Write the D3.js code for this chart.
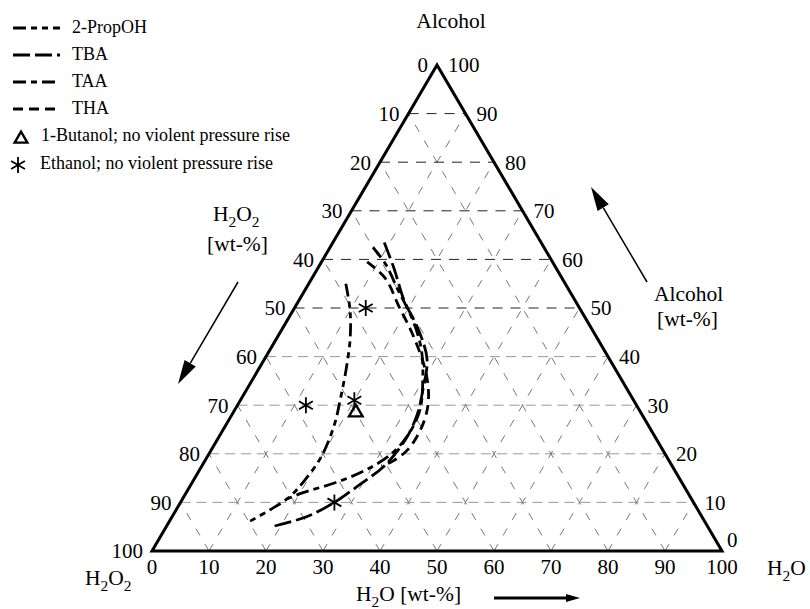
<!DOCTYPE html>
<html>
<head>
<meta charset="utf-8">
<script src="https://cdn.jsdelivr.net/npm/d3@7"></script>
<style>
  body { margin: 0; background: #fff; }
  text { font-family: "Liberation Serif", "Times New Roman", serif; fill: #000; }
</style>
</head>
<body>
<div id="chart"></div>
<script>
// ternary points as [H2O, Alcohol] in wt-%, H2O2 is the rest
var propoh = [[6.5,55],[10,49.5],[13,43.5],[15.5,37],[17.5,31],[19,26],[20,19.5],[19.5,14.5],[18.5,11],[16.5,8.5],[14,6]]
var tba = [[9,63.5],[13.5,58],[18.5,51.5],[24,45.5],[28.5,39.5],[31,33],[32.5,28],[33,23],[32,17.5],[29.5,13.5],[27,10],[23.5,7],[18.5,5]]
var taa = [[7.5,62.5],[11.5,59],[16.5,53.5],[22,47.5],[26.5,41.5],[30,35],[32.5,29],[33,24],[32,20],[29,16.5],[25,14],[20.5,12],[18,10.5]]
var tha = [[8,59.5],[13,56],[18,50.5],[23.5,44.5],[29.5,37],[33,31],[34.5,26],[34.5,21],[33,18.5],[31.5,17.5]]
var ethanol = [[12.5,50],[12,30],[20,31],[27,10]]
var butanol = [[21.5,28.5]]
var ticks = [0,10,20,30,40,50,60,70,80,90,100]
var gridVals = [10,20,30,40,50,60,70,80,90]

var series = [
  {name: "2-PropOH", data: propoh, dash: "13,5,6,5,6,5"},
  {name: "TBA", data: tba, dash: "17,5"},
  {name: "TAA", data: taa, dash: "13,5,6,5"},
  {name: "THA", data: tha, dash: "10,6"}
]

var width = 810, height = 609
var tri = {left: 152, right: 722, bottom: 551, top: 65}

var svg = d3.select("#chart")
  .append("svg")
    .attr("width", width)
    .attr("height", height)

// base coordinate and height scales of the triangle
var xs = d3.scaleLinear().domain([0, 100]).range([tri.left, tri.right])
var ys = d3.scaleLinear().domain([0, 100]).range([tri.bottom, tri.top])

function P(h2o, alc) { return [xs(h2o + alc / 2), ys(alc)] }

function seg(g, a, b) {
  return g.append("line")
    .attr("x1", a[0]).attr("y1", a[1])
    .attr("x2", b[0]).attr("y2", b[1])
}

// grid
var grid = svg.append("g")
gridVals.forEach(function(k) {
  // constant alcohol
  seg(grid, P(0, k), P(100 - k, k))
    .attr("stroke", k >= 50 ? "#222" : "#999")
    .attr("stroke-width", 1)
    .attr("stroke-dasharray", k >= 50 ? "10,8" : "10,6")
  // constant H2O
  seg(grid, P(k, 0), P(k, 100 - k))
    .attr("stroke", "#777").attr("stroke-width", 1)
    .attr("stroke-dasharray", "8,10")
  // constant H2O2
  seg(grid, P(100 - k, 0), P(0, 100 - k))
    .attr("stroke", "#777").attr("stroke-width", 1)
    .attr("stroke-dasharray", "8,10")
})

// triangle frame
svg.append("path")
  .attr("d", d3.line()([P(0, 0), P(100, 0), P(0, 100)]) + "Z")
  .attr("fill", "none")
  .attr("stroke", "#000")
  .attr("stroke-width", 3)
  .attr("stroke-linejoin", "miter")

// tick labels
var fs = 21
svg.selectAll(".tb").data(ticks).enter().append("text")
  .attr("x", function(d) { return P(d, 0)[0] })
  .attr("y", tri.bottom + 23)
  .attr("text-anchor", "middle")
  .style("font-size", fs + "px")
  .text(function(d) { return d })

svg.selectAll(".tl").data(ticks).enter().append("text")
  .attr("x", function(d) { return P(0, 100 - d)[0] - 9 })
  .attr("y", function(d) { return P(0, 100 - d)[1] })
  .attr("dy", "0.35em")
  .attr("text-anchor", "end")
  .style("font-size", fs + "px")
  .text(function(d) { return d })

svg.selectAll(".tr").data(ticks).enter().append("text")
  .attr("x", function(d) { return P(100 - d, d)[0] + (d == 0 ? 5 : 11) })
  .attr("y", function(d) { return P(100 - d, d)[1] - (d == 0 ? 11 : 0) })
  .attr("dy", "0.35em")
  .attr("text-anchor", "start")
  .style("font-size", fs + "px")
  .text(function(d) { return d })

// text with subscripts
function chem(x, y, parts, size, anchor) {
  var t = svg.append("text")
    .attr("x", x).attr("y", y)
    .attr("text-anchor", anchor || "start")
    .style("font-size", size + "px")
  parts.forEach(function(p) {
    if (p[1]) {
      t.append("tspan").attr("dy", size * 0.26).style("font-size", (size * 0.72) + "px").text(p[0])
    } else {
      t.append("tspan").attr("dy", p[2] ? -size * 0.26 : 0).text(p[0])
    }
  })
  return t
}

var ts = 21.5
svg.append("text").attr("x", 451).attr("y", 28).attr("text-anchor", "middle")
  .style("font-size", ts + "px").text("Alcohol")

chem(213, 221, [["H"], ["2", 1], ["O", 0, 1], ["2", 1]], ts)
svg.append("text").attr("x", 207).attr("y", 251).style("font-size", ts + "px").text("[wt-%]")

svg.append("text").attr("x", 654).attr("y", 301).style("font-size", ts + "px").text("Alcohol")
svg.append("text").attr("x", 657).attr("y", 326).style("font-size", ts + "px").text("[wt-%]")

chem(85, 585, [["H"], ["2", 1], ["O", 0, 1], ["2", 1]], ts)
chem(767, 575, [["H"], ["2", 1], ["O", 0, 1]], ts)
chem(356, 601, [["H"], ["2", 1], ["O [wt-%]", 0, 1]], ts)

// arrows
function arrow(x1, y1, x2, y2, w, hl, hw) {
  var ang = Math.atan2(y2 - y1, x2 - x1)
  var bx = x2 - hl * Math.cos(ang), by = y2 - hl * Math.sin(ang)
  svg.append("line")
    .attr("x1", x1).attr("y1", y1).attr("x2", bx).attr("y2", by)
    .attr("stroke", "#000").attr("stroke-width", w)
  var nx = -Math.sin(ang) * hw / 2, ny = Math.cos(ang) * hw / 2
  svg.append("path")
    .attr("d", "M" + x2 + "," + y2 + "L" + (bx + nx) + "," + (by + ny) + "L" + (bx - nx) + "," + (by - ny) + "Z")
    .attr("fill", "#000")
}
arrow(238, 282, 178, 384, 1.5, 24, 13)
arrow(647, 282, 591, 187, 1.5, 24, 13)
arrow(494, 598, 580, 598, 3, 14, 8)

// curves
var line = d3.line()
  .x(function(d) { return P(d[0], d[1])[0] })
  .y(function(d) { return P(d[0], d[1])[1] })
  .curve(d3.curveCatmullRom)

svg.selectAll(".curve").data(series).enter().append("path")
  .attr("d", function(d) { return line(d.data) })
  .attr("fill", "none")
  .attr("stroke", "#000")
  .attr("stroke-width", 2.8)
  .attr("stroke-dasharray", function(d) { return d.dash })

// markers
function star(s) {
  var r = s, t = r / 2, u = t * Math.sqrt(3)
  return "M0," + r + "L0," + (-r) + "M" + (-u) + "," + (-t) + "L" + u + "," + t + "M" + (-u) + "," + t + "L" + u + "," + (-t)
}

svg.selectAll(".eth").data(ethanol).enter().append("path")
  .attr("transform", function(d) { return "translate(" + P(d[0], d[1]) + ")" })
  .attr("d", star(8))
  .attr("stroke", "#000").attr("stroke-width", 1.8).attr("fill", "none")

svg.selectAll(".but").data(butanol).enter().append("path")
  .attr("transform", function(d) { return "translate(" + P(d[0], d[1]) + ")" })
  .attr("d", d3.symbol().type(d3.symbolTriangle).size(80)())
  .attr("stroke", "#000").attr("stroke-width", 2.4).attr("fill", "none")

// legend
var leg = svg.append("g")
series.forEach(function(s, i) {
  var y = 28 + i * 27
  leg.append("line")
    .attr("x1", 13).attr("x2", 60).attr("y1", y).attr("y2", y)
    .attr("stroke", "#000").attr("stroke-width", 3)
    .attr("stroke-dasharray", s.dash)
  leg.append("text").attr("x", 72).attr("y", y + 5)
    .style("font-size", "18px").text(s.name)
})
leg.append("path").attr("transform", "translate(21,139)")
  .attr("d", d3.symbol().type(d3.symbolTriangle).size(70)())
  .attr("stroke", "#000").attr("stroke-width", 2.4).attr("fill", "none")
leg.append("text").attr("x", 41).attr("y", 141).style("font-size", "18px")
  .text("1-Butanol; no violent pressure rise")
leg.append("path").attr("transform", "translate(18,165)")
  .attr("d", star(8))
  .attr("stroke", "#000").attr("stroke-width", 1.8).attr("fill", "none")
leg.append("text").attr("x", 40).attr("y", 169).style("font-size", "18px")
  .text("Ethanol; no violent pressure rise")
</script>
</body>
</html>
